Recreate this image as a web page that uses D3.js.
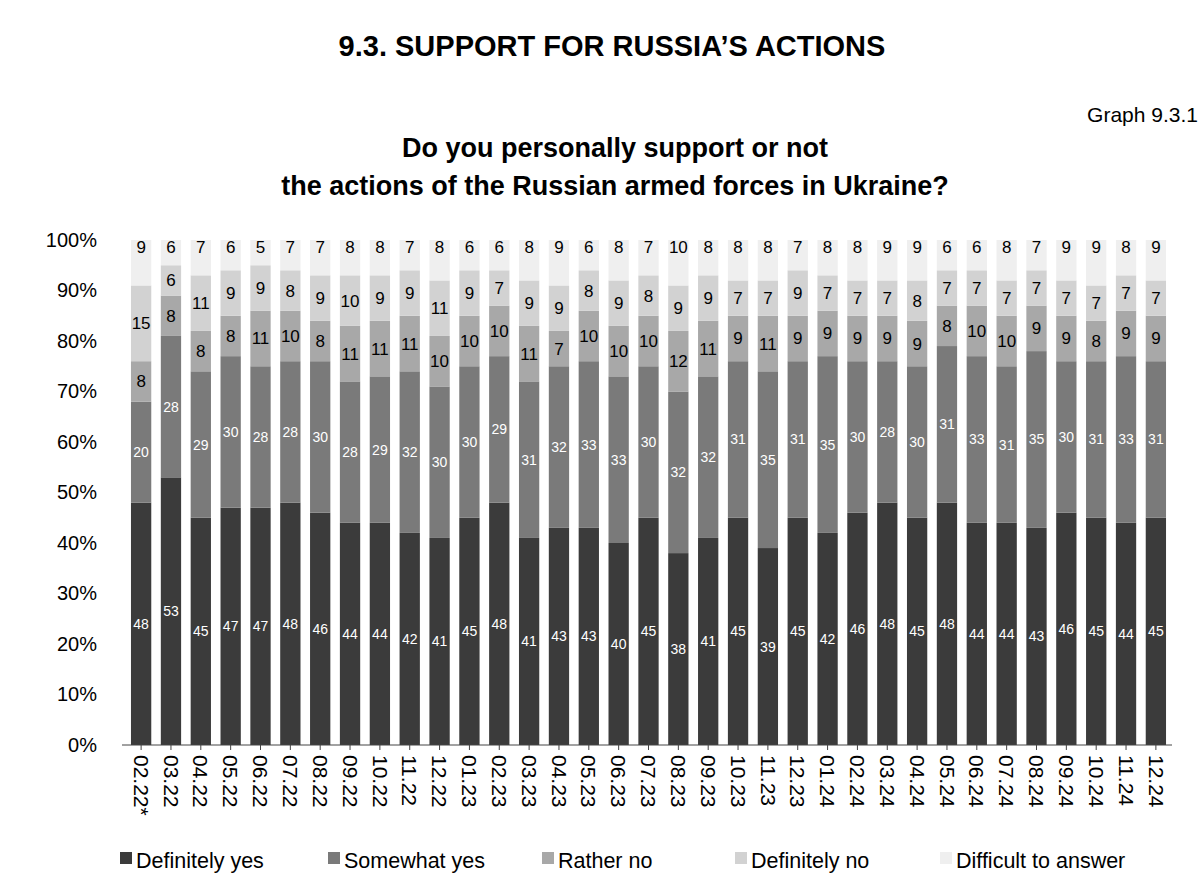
<!DOCTYPE html>
<html><head><meta charset="utf-8">
<script src="https://cdn.jsdelivr.net/npm/d3@7"></script>
<style>body{margin:0;background:#fff;font-family:Arial,"Liberation Sans",sans-serif}</style>
</head><body><svg id="chart"></svg>
<script>
var months = ["02.22*","03.22","04.22","05.22","06.22","07.22","08.22","09.22","10.22","11.22","12.22",
  "01.23","02.23","03.23","04.23","05.23","06.23","07.23","08.23","09.23","10.23","11.23","12.23",
  "01.24","02.24","03.24","04.24","05.24","06.24","07.24","08.24","09.24","10.24","11.24","12.24"];
var definitelyYes = [48,53,45,47,47,48,46,44,44,42,41, 45,48,41,43,43,40,45,38,41,45,39,45, 42,46,48,45,48,44,44,43,46,45,44,45];
var somewhatYes = [20,28,29,30,28,28,30,28,29,32,30, 30,29,31,32,33,33,30,32,32,31,35,31, 35,30,28,30,31,33,31,35,30,31,33,31];
var ratherNo = [8,8,8,8,11,10,8,11,11,11,10, 10,10,11,7,10,10,10,12,11,9,11,9, 9,9,9,9,8,10,10,9,9,8,9,9];
var definitelyNo = [15,6,11,9,9,8,9,10,9,9,11, 9,7,9,9,8,9,8,9,9,7,7,9, 7,7,7,8,7,7,7,7,7,7,7,7];
var difficult = [9,6,7,6,5,7,7,8,8,7,8, 6,6,8,9,6,8,7,10,8,8,8,7, 8,8,9,9,6,6,8,7,9,9,8,9];
var seriesNames = ["Definitely yes","Somewhat yes","Rather no","Definitely no","Difficult to answer"];
var seriesData = [definitelyYes, somewhatYes, ratherNo, definitelyNo, difficult];
var colors = ["#3b3b3b","#7a7a7a","#a8a8a8","#d2d2d2","#efefef"];
var labelColors = ["#fff","#fff","#000","#000","#000"];

var W = 1200, H = 888;
var svg = d3.select("#chart").attr("width", W).attr("height", H);

svg.append("text").attr("x", 612).attr("y", 56).attr("text-anchor", "middle")
  .attr("font-size", 29).attr("font-weight", "bold").text("9.3. SUPPORT FOR RUSSIA\u2019S ACTIONS");
svg.append("text").attr("x", 1198).attr("y", 122).attr("text-anchor", "end")
  .attr("font-size", 21).text("Graph 9.3.1");
svg.append("text").attr("x", 615).attr("y", 157).attr("text-anchor", "middle")
  .attr("font-size", 27).attr("font-weight", "bold").text("Do you personally support or not");
svg.append("text").attr("x", 615).attr("y", 195).attr("text-anchor", "middle")
  .attr("font-size", 27).attr("font-weight", "bold").text("the actions of the Russian armed forces in Ukraine?");

var x = d3.scaleBand().domain(months).range([125, 1172]).paddingInner(0.32).paddingOuter(0.2);
var y = d3.scaleLinear().domain([0, 100]).range([745, 240]);

var rows = months.map(function (m, i) {
  var r = {month: m};
  seriesNames.forEach(function (s, k) { r[s] = seriesData[k][i]; });
  return r;
});
var stacked = d3.stack().keys(seriesNames)(rows);

var g = svg.append("g");
stacked.forEach(function (layer, k) {
  g.selectAll(null).data(layer).enter().append("rect")
    .attr("x", function (d) { return x(d.data.month); })
    .attr("width", x.bandwidth())
    .attr("y", function (d) { return y(Math.min(d[1], 100)); })
    .attr("height", function (d) { return y(d[0]) - y(Math.min(d[1], 100)); })
    .attr("fill", colors[k]);
  g.selectAll(null).data(layer).enter().append("text")
    .attr("x", function (d) { return x(d.data.month) + x.bandwidth() / 2; })
    .attr("y", function (d) {
      if (k === 4) return y(100) + 13;
      return y((d[0] + Math.min(d[1], 100)) / 2) + (k < 2 ? 5 : 6);
    })
    .attr("text-anchor", "middle")
    .attr("font-size", k < 2 ? 14 : 17)
    .attr("fill", labelColors[k])
    .text(function (d) { return d.data[seriesNames[k]]; });
});

var yAxis = svg.append("g").attr("transform", "translate(125,0)")
  .call(d3.axisLeft(y).tickValues(d3.range(0, 101, 10)).tickFormat(function (d) { return d + "%"; }).tickSize(0).tickPadding(28));
yAxis.select(".domain").remove();
yAxis.selectAll("text").attr("font-size", 20).attr("fill", "#000").attr("font-family", "Arial,'Liberation Sans',sans-serif");

var xAxis = svg.append("g").attr("transform", "translate(0,745)")
  .call(d3.axisBottom(x).tickSize(5));
xAxis.select(".domain").attr("stroke", "#444").attr("d", "M122,0H1172");
xAxis.selectAll("line").attr("stroke", "#444");
xAxis.selectAll("text").attr("font-size", 21).attr("fill", "#000")
  .attr("font-family", "Arial,'Liberation Sans',sans-serif")
  .attr("transform", "rotate(90)").attr("text-anchor", "start")
  .attr("x", 10).attr("y", 0).attr("dy", "0.35em");

var legend = svg.append("g");
var legX = [120, 328, 542, 735, 940];
seriesNames.forEach(function (s, k) {
  legend.append("rect").attr("x", legX[k]).attr("y", 852).attr("width", 12).attr("height", 12).attr("fill", colors[k]);
  legend.append("text").attr("x", legX[k] + 16).attr("y", 868).attr("font-size", 21.5).text(s);
});
</script></body></html>
